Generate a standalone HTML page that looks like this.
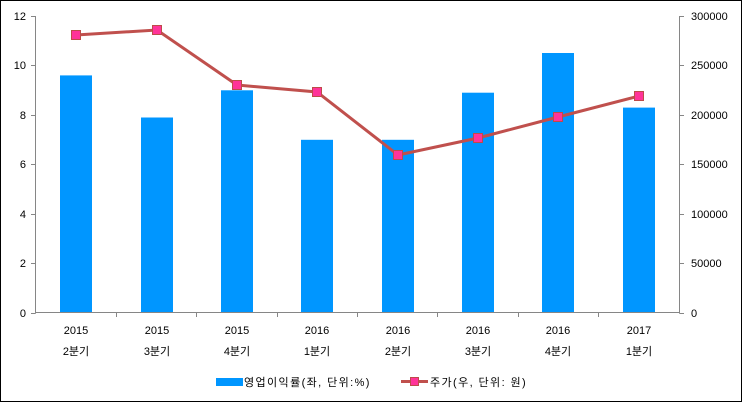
<!DOCTYPE html>
<html><head><meta charset="utf-8"><style>
html,body{margin:0;padding:0;background:#fff}
svg{display:block}
text{font-family:"Liberation Sans","Noto Sans CJK KR",sans-serif;font-size:11px;fill:#000}
.lg{letter-spacing:1.4px}
</style></head><body>
<svg width="743" height="403" viewBox="0 0 743 403">
<rect x="0.5" y="0.5" width="741" height="401" fill="#fff" stroke="#000"/>
<g fill="#0096FF">
<rect x="60" y="75.4" width="32" height="237.6"/>
<rect x="141" y="117.5" width="32" height="195.5"/>
<rect x="221" y="90.3" width="32" height="222.7"/>
<rect x="301" y="139.8" width="32" height="173.2"/>
<rect x="382" y="139.8" width="32" height="173.2"/>
<rect x="462" y="92.7" width="32" height="220.3"/>
<rect x="542" y="53" width="32" height="260"/>
<rect x="623" y="107.6" width="32" height="205.4"/>
</g>
<g stroke="#868686" fill="none">
<path d="M35.5 16V313.5M31 16.5H35.5M31 65.5H35.5M31 115.5H35.5M31 164.5H35.5M31 214.5H35.5M31 263.5H35.5M31 313.5H35.5"/>
<path d="M679.5 16V313.5M679.5 16.5H684M679.5 65.5H684M679.5 115.5H684M679.5 164.5H684M679.5 214.5H684M679.5 263.5H684M679.5 313.5H684"/>
<path d="M35.5 312.5H679.5M116.5 313V317M196.5 313V317M277.5 313V317M357.5 313V317M437.5 313V317M518.5 313V317M598.5 313V317"/>
</g>
<g text-anchor="end">
<text x="26" y="20">12</text><text x="26" y="69">10</text><text x="26" y="119">8</text><text x="26" y="168">6</text><text x="26" y="218">4</text><text x="26" y="267">2</text><text x="26" y="317">0</text>
</g>
<g>
<text x="691" y="20">300000</text><text x="691" y="69">250000</text><text x="691" y="119">200000</text><text x="691" y="168">150000</text><text x="691" y="218">100000</text><text x="691" y="267">50000</text><text x="691" y="317">0</text>
</g>
<g text-anchor="middle">
<text x="76" y="334">2015</text><text x="76" y="355">2분기</text>
<text x="157" y="334">2015</text><text x="157" y="355">3분기</text>
<text x="237" y="334">2015</text><text x="237" y="355">4분기</text>
<text x="317" y="334">2016</text><text x="317" y="355">1분기</text>
<text x="398" y="334">2016</text><text x="398" y="355">2분기</text>
<text x="478" y="334">2016</text><text x="478" y="355">3분기</text>
<text x="558" y="334">2016</text><text x="558" y="355">4분기</text>
<text x="639" y="334">2017</text><text x="639" y="355">1분기</text>
</g>
<polyline points="76,35 157,30 237,85 317,92 398,155 478,138 558,117 639,96" fill="none" stroke="#C0504D" stroke-width="3"/>
<g fill="#FF3399" stroke="#BE4B48">
<rect x="71.5" y="30.5" width="9" height="9"/><rect x="152.5" y="25.5" width="9" height="9"/><rect x="232.5" y="80.5" width="9" height="9"/><rect x="312.5" y="87.5" width="9" height="9"/><rect x="393.5" y="150.5" width="9" height="9"/><rect x="473.5" y="133.5" width="9" height="9"/><rect x="553.5" y="112.5" width="9" height="9"/><rect x="634.5" y="91.5" width="9" height="9"/>
</g>
<rect x="216" y="378" width="27" height="8" fill="#0096FF"/>
<text class="lg" x="244" y="386">영업이익률(좌, 단위:%)</text>
<line x1="401" y1="381.5" x2="428" y2="381.5" stroke="#C0504D" stroke-width="3"/>
<rect x="410.5" y="377.5" width="8" height="8" fill="#FF3399" stroke="#BE4B48"/>
<text class="lg" x="430" y="386">주가(우, 단위: 원)</text>
</svg>
</body></html>
